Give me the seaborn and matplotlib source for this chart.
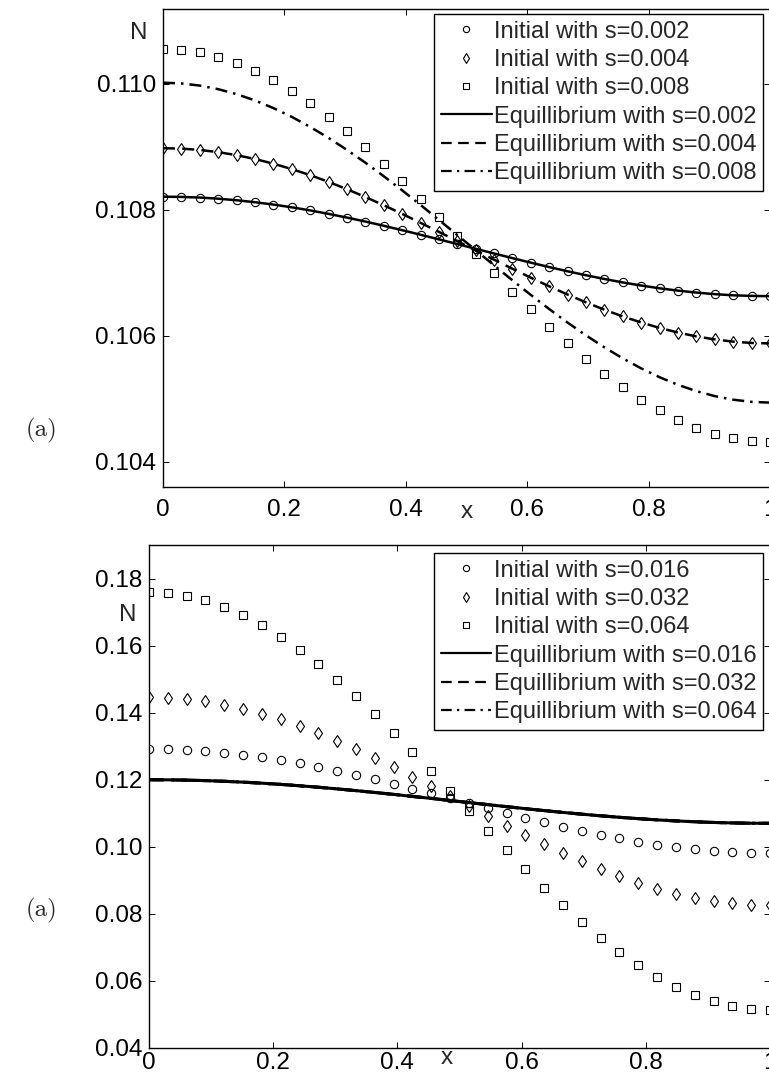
import matplotlib
matplotlib.use("Agg")
import matplotlib.pyplot as plt
from matplotlib.lines import Line2D
import numpy as np
import pandas as pd
import seaborn as sns

# ---------------- data ----------------
x_grid = [i / 33 for i in range(34)]

# panel 1: small source strengths
s_top = ["0.002", "0.004", "0.008"]
init_top_002 = [0.108210, 0.108206, 0.108196, 0.108178, 0.108153, 0.108122, 0.108085, 0.108041,
                0.107992, 0.107937, 0.107878, 0.107815, 0.107748, 0.107678, 0.107606, 0.107532,
                0.107458, 0.107382, 0.107308, 0.107234, 0.107162, 0.107092, 0.107025, 0.106962,
                0.106903, 0.106848, 0.106799, 0.106755, 0.106718, 0.106687, 0.106662, 0.106644,
                0.106634, 0.106630]
init_top_004 = [0.108980, 0.108973, 0.108952, 0.108917, 0.108869, 0.108808, 0.108734, 0.108648,
                0.108552, 0.108445, 0.108329, 0.108205, 0.108074, 0.107937, 0.107795, 0.107651,
                0.107504, 0.107356, 0.107209, 0.107065, 0.106923, 0.106786, 0.106655, 0.106531,
                0.106415, 0.106308, 0.106212, 0.106126, 0.106052, 0.105991, 0.105943, 0.105908,
                0.105887, 0.105880]
init_top_008 = [0.110560, 0.110546, 0.110504, 0.110434, 0.110337, 0.110213, 0.110065, 0.109892,
                0.109698, 0.109483, 0.109250, 0.109000, 0.108736, 0.108460, 0.108176, 0.107884,
                0.107588, 0.107292, 0.106996, 0.106704, 0.106420, 0.106144, 0.105880, 0.105630,
                0.105397, 0.105182, 0.104988, 0.104815, 0.104667, 0.104543, 0.104446, 0.104376,
                0.104334, 0.104320]
equi_top_002 = list(init_top_002)
equi_top_004 = list(init_top_004)
equi_top_008 = [0.110020, 0.110008, 0.109974, 0.109917, 0.109838, 0.109738, 0.109617, 0.109477,
                0.109318, 0.109143, 0.108953, 0.108750, 0.108535, 0.108311, 0.108079, 0.107841,
                0.107601, 0.107359, 0.107119, 0.106881, 0.106649, 0.106425, 0.106210, 0.106007,
                0.105817, 0.105642, 0.105483, 0.105343, 0.105222, 0.105122, 0.105043, 0.104986,
                0.104952, 0.104940]

# panel 2: larger source strengths
s_bot = ["0.016", "0.032", "0.064"]
init_bot_016 = [0.12920, 0.12913, 0.12892, 0.12857, 0.12809, 0.12748, 0.12674, 0.12588,
                0.12492, 0.12385, 0.12269, 0.12145, 0.12014, 0.11877, 0.11735, 0.11591,
                0.11444, 0.11296, 0.11149, 0.11005, 0.10863, 0.10726, 0.10595, 0.10471,
                0.10355, 0.10248, 0.10152, 0.10066, 0.09992, 0.09931, 0.09883, 0.09848,
                0.09827, 0.09820]
init_bot_032 = [0.14460, 0.14446, 0.14404, 0.14334, 0.14238, 0.14115, 0.13968, 0.13797,
                0.13604, 0.13390, 0.13158, 0.12910, 0.12648, 0.12374, 0.12091, 0.11801,
                0.11508, 0.11213, 0.10919, 0.10629, 0.10346, 0.10072, 0.09810, 0.09562,
                0.09330, 0.09116, 0.08923, 0.08752, 0.08605, 0.08482, 0.08386, 0.08316,
                0.08274, 0.08260]
init_bot_064 = [0.17600, 0.17572, 0.17487, 0.17348, 0.17154, 0.16907, 0.16611, 0.16267,
                0.15879, 0.15450, 0.14984, 0.14485, 0.13958, 0.13408, 0.12839, 0.12257,
                0.11666, 0.11074, 0.10483, 0.09901, 0.09332, 0.08782, 0.08255, 0.07756,
                0.07290, 0.06861, 0.06473, 0.06129, 0.05833, 0.05586, 0.05392, 0.05253,
                0.05168, 0.05140]
equi_bot = [0.12000, 0.11997, 0.11988, 0.11974, 0.11953, 0.11928, 0.11897, 0.11861,
            0.11820, 0.11776, 0.11727, 0.11675, 0.11620, 0.11563, 0.11503, 0.11443,
            0.11381, 0.11319, 0.11258, 0.11197, 0.11137, 0.11080, 0.11025, 0.10973,
            0.10924, 0.10880, 0.10839, 0.10803, 0.10772, 0.10747, 0.10726, 0.10712,
            0.10703, 0.10700]
equi_bot_016 = list(equi_bot)
equi_bot_032 = list(equi_bot)
equi_bot_064 = list(equi_bot)

x_ticks = [0, 0.2, 0.4, 0.6, 0.8, 1]
x_ticklabels = ["0", "0.2", "0.4", "0.6", "0.8", "1"]
y_ticks_top = [0.104, 0.106, 0.108, 0.110]
y_ticks_bot = [0.04, 0.06, 0.08, 0.10, 0.12, 0.14, 0.16, 0.18]

# ---------------- style ----------------
sns.set_style("ticks")
plt.rcParams["font.family"] = ["Liberation Sans", "DejaVu Sans"]
plt.rcParams["axes.linewidth"] = 1.0

W, H = 769, 1073
fig = plt.figure(figsize=(W / 100, H / 100), dpi=100)


def frac_box(left, top, right, bottom):
    return [left / W, 1 - bottom / H, (right - left) / W, (bottom - top) / H]


ax1 = fig.add_axes(frac_box(163, 9, 770, 487))
ax2 = fig.add_axes(frac_box(149, 545, 770, 1048))

MARKERS = ["o", "d", "s"]
MSIZES = [6.0, 6.5, 5.2]
DASH = (4.8, 2.9)
DASHDOT = (4.8, 2.4, 1.0, 2.4)
LINESTYLES = ["-", DASH, DASHDOT]


def draw_panel(ax, svals, inits, equis, lw):
    handles = []
    for vals, m, ms, s in zip(inits, MARKERS, MSIZES, svals):
        df = pd.DataFrame({"x": x_grid, "N": vals})
        sns.lineplot(data=df, x="x", y="N", ax=ax, estimator=None, sort=False,
                     linestyle="none", marker=m, markersize=ms, markerfacecolor="none",
                     markeredgecolor="black", markeredgewidth=0.8, color="black", zorder=3)
        handles.append(Line2D([], [], linestyle="none", marker=m, markersize=ms * 0.75,
                              markerfacecolor="none", markeredgecolor="black",
                              markeredgewidth=0.8, label=f"Initial with s={s}"))
    # dashed variants first so the solid curve sits on top
    order = [2, 1, 0]
    for i in order:
        df = pd.DataFrame({"x": x_grid, "N": equis[i]})
        ls = LINESTYLES[i]
        kw = {"linestyle": "-"} if ls == "-" else {"dashes": ls}
        sns.lineplot(data=df, x="x", y="N", ax=ax, estimator=None, sort=False,
                     color="black", linewidth=lw, zorder=2, **kw)
    for i, s in enumerate(svals):
        ls = LINESTYLES[i]
        h = Line2D([], [], color="black", linewidth=1.6, label=f"Equillibrium with s={s}")
        if ls != "-":
            h.set_dashes(ls)
        handles.append(h)
    return handles


h1 = draw_panel(ax1, s_top, [init_top_002, init_top_004, init_top_008],
                [equi_top_002, equi_top_004, equi_top_008], lw=1.8)
h2 = draw_panel(ax2, s_bot, [init_bot_016, init_bot_032, init_bot_064],
                [equi_bot_016, equi_bot_032, equi_bot_064], lw=2.2)

ax1.set_ylim(0.1036, 0.11119)
ax2.set_ylim(0.04, 0.19)
for ax in (ax1, ax2):
    ax.set_xlim(0, 1)
    ax.set_xticks(x_ticks)
    ax.set_xticklabels(x_ticklabels)
    ax.set_xlabel("")
    ax.set_ylabel("")
    for sp in ax.spines.values():
        sp.set_visible(True)
        sp.set_linewidth(1.0)
        sp.set_color("black")
    ax.tick_params(axis="both", direction="in", length=4, width=0.7, top=True, right=True,
                   labelsize=17.5, colors="black")
    ax.set_facecolor("white")

ax1.set_yticks(y_ticks_top)
ax1.set_yticklabels([f"{v:.3f}" for v in y_ticks_top])
ax2.set_yticks(y_ticks_bot)
ax2.set_yticklabels([f"{v:.2f}" for v in y_ticks_bot])
ax1.tick_params(axis="x", pad=9)
ax1.tick_params(axis="y", pad=5)
ax2.tick_params(axis="x", pad=3)
ax2.tick_params(axis="y", pad=5)

leg_kw = dict(loc="upper right", fontsize=17, frameon=True, fancybox=False, framealpha=1,
              edgecolor="black", borderpad=0.28, labelspacing=0.27, handlelength=2.15,
              handletextpad=0.1, borderaxespad=0)
lg1 = ax1.legend(handles=h1, bbox_to_anchor=(763 / W, 1 - 14 / H),
                 bbox_transform=fig.transFigure, **leg_kw)
lg2 = ax2.legend(handles=h2, bbox_to_anchor=(763 / W, 1 - 553 / H),
                 bbox_transform=fig.transFigure, **leg_kw)
for lg in (lg1, lg2):
    lg.get_frame().set_linewidth(1.0)
    lg.set_zorder(5)

# axis names and panel tags
fig.text(139 / W, 1 - 33 / H, "N", fontsize=17.5, ha="center", va="center")
fig.text(467 / W, 1 - 512 / H, "x", fontsize=17.5, ha="center", va="center")
fig.text(128 / W, 1 - 615 / H, "N", fontsize=17.5, ha="center", va="center")
fig.text(447 / W, 1 - 1058 / H, "x", fontsize=17.5, ha="center", va="center")
fig.text(42 / W, 1 - 430 / H, "(a)", fontsize=18, ha="center", va="center",
         family=["cmr10", "DejaVu Serif"])
fig.text(42 / W, 1 - 910 / H, "(a)", fontsize=18, ha="center", va="center",
         family=["cmr10", "DejaVu Serif"])

fig.savefig("out.png", dpi=100, facecolor="white")
